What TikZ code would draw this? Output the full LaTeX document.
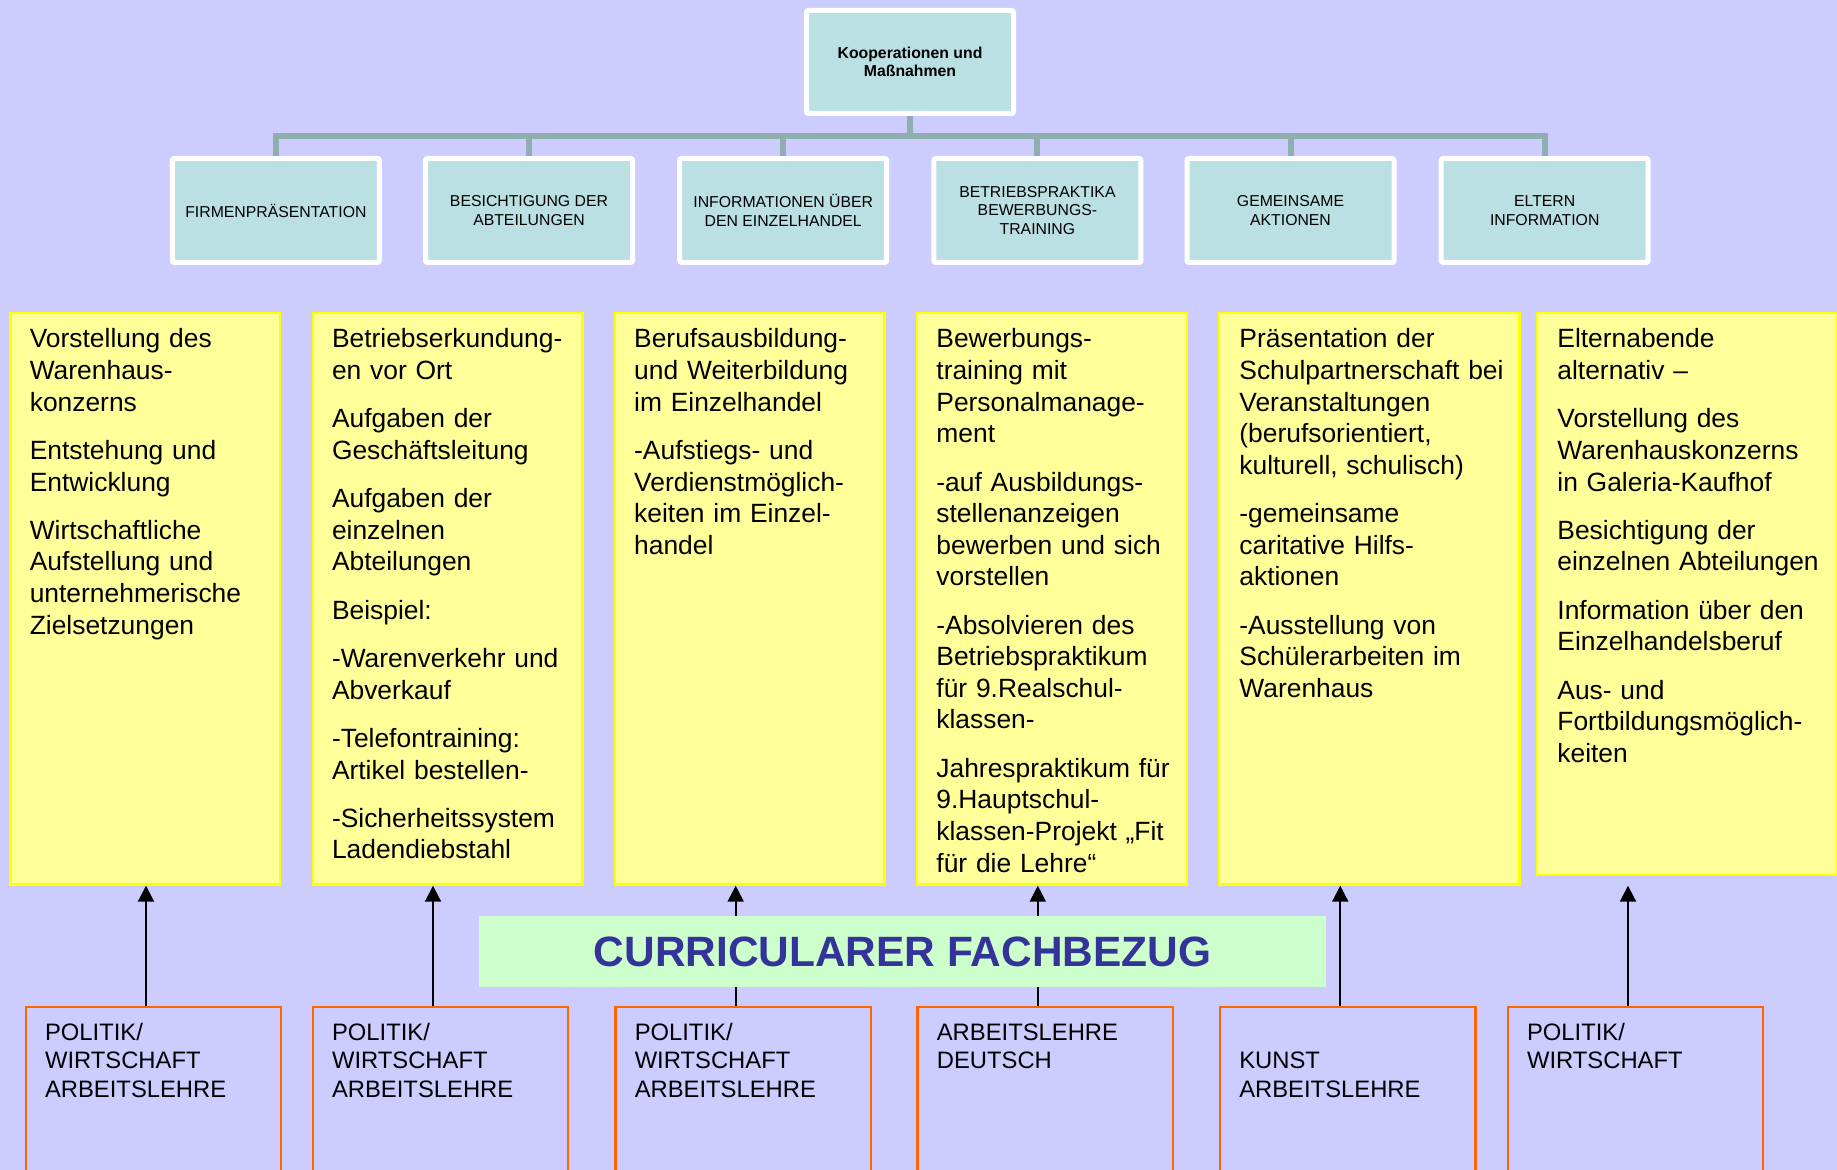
\documentclass[tikz,border=0pt]{standalone}
\usepackage{fontspec}
\setmainfont{Liberation Sans}
\usepackage{tikz}
\usetikzlibrary{arrows.meta}

\definecolor{hintergrund}{RGB}{204,204,255}
\definecolor{tuerkis}{RGB}{187,224,227}
\definecolor{astfarbe}{RGB}{143,175,175}
\definecolor{hellgelb}{RGB}{255,255,153}
\definecolor{randgelb}{RGB}{255,255,0}
\definecolor{hellgruen}{RGB}{204,255,204}
\definecolor{fachblau}{RGB}{51,51,153}
\definecolor{fachorange}{RGB}{255,102,0}

\begin{document}
\begin{tikzpicture}[x=0.5pt,y=-0.5pt]
        \tikzstyle{kopfnode}=[
            rectangle,
            rounded corners=1pt,
            draw=white,
            line width=2.5pt,
            fill=tuerkis,
            text=black,
            align=center,
            minimum width=103.5pt,
            minimum height=52pt,
            font=\fontsize{7.9}{9.35}\selectfont
        ]
        \tikzstyle{zettelnode}=[
            rectangle,
            draw=randgelb,
            line width=1.2pt,
            fill=hellgelb,
            minimum width=134.8pt,
            minimum height=285.85pt,
            inner sep=0pt
        ]
        \tikzstyle{zetteltext}=[
            anchor=base west,
            inner sep=0pt,
            text width=125pt,
            align=left,
            font=\fontsize{13.2}{15.8}\selectfont
        ]
        \tikzstyle{fachnode}=[
            rectangle,
            draw=fachorange,
            line width=1.2pt,
            minimum width=127.65pt,
            minimum height=94.8pt
        ]
        \tikzstyle{fachtext}=[
            anchor=base west,
            inner sep=0pt,
            text width=110pt,
            align=left,
            font=\fontsize{11.9}{14.35}\selectfont
        ]
        \tikzstyle{balkennode}=[
            rectangle,
            fill=hellgruen,
            text=fachblau,
            minimum width=423.5pt,
            minimum height=35.35pt,
            font=\fontsize{21.2}{25}\selectfont\bfseries
        ]
        \tikzstyle{ast}=[draw=astfarbe, line width=3pt]
        \tikzstyle{pfeil}=[draw=black, line width=1pt, -{Triangle[length=8pt,width=8pt]}]

        \path[use as bounding box, clip] (0,0) rectangle (1837,1170);
        \fill[hintergrund] (0,0) rectangle (1837,1170);

        \node[kopfnode, font=\fontsize{7.9}{9.35}\selectfont\bfseries, minimum height=51.5pt] (K) at (910,62){Kooperationen und\\Maßnahmen};

        \node[kopfnode] (B1) at (275.9,210.5){FIRMENPRÄSENTATION};
        \node[kopfnode] (B2) at (529,210.5){BESICHTIGUNG DER\\ABTEILUNGEN};
        \node[kopfnode] (B3) at (783.2,210.5){INFORMATIONEN ÜBER\\DEN EINZELHANDEL};
        \node[kopfnode] (B4) at (1037.4,210.5){BETRIEBSPRAKTIKA\\BEWERBUNGS-\\TRAINING};
        \node[kopfnode] (B5) at (1290.5,210.5){GEMEINSAME\\AKTIONEN};
        \node[kopfnode] (B6) at (1544.7,210.5){ELTERN\\INFORMATION};

        \draw[ast] (K.south) -- ++(0,20) -| (B1.north);
        \draw[ast] (K.south) -- ++(0,20) -| (B2.north);
        \draw[ast] (K.south) -- ++(0,20) -| (B3.north);
        \draw[ast] (K.south) -- ++(0,20) -| (B4.north);
        \draw[ast] (K.south) -- ++(0,20) -| (B5.north);
        \draw[ast] (K.south) -- ++(0,20) -| (B6.north);

        \node[zettelnode] (Y1) at (145.4,598.65){};
        \node[zettelnode] (Y2) at (447.6,598.65){};
        \node[zettelnode] (Y3) at (749.8,598.65){};
        \node[zettelnode] (Y4) at (1052,598.65){};
        \node[zettelnode, minimum width=150.15pt] (Y5) at (1369.35,598.65){};
        \node[zettelnode, minimum width=150.15pt, minimum height=281.2pt] (Y6) at (1687.35,594){};

        \node[zetteltext] (T1) at ([shift={(20,36.4)}]Y1.north west){Vorstellung des\\Warenhaus-\\konzerns\\[8.35pt]Entstehung und\\Entwicklung\\[8.35pt]Wirtschaftliche\\Aufstellung und\\unternehmerische\\Zielsetzungen};
        \node[zetteltext] (T2) at ([shift={(20,36.4)}]Y2.north west){Betriebserkundung-\\en vor Ort\\[8.35pt]Aufgaben der\\Geschäftsleitung\\[8.35pt]Aufgaben der\\einzelnen\\Abteilungen\\[8.35pt]Beispiel:\\[8.35pt]-Warenverkehr und\\Abverkauf\\[8.35pt]-Telefontraining:\\Artikel bestellen-\\[8.35pt]-Sicherheitssystem\\Ladendiebstahl};
        \node[zetteltext] (T3) at ([shift={(20,36.4)}]Y3.north west){Berufsausbildung-\\und Weiterbildung\\im Einzelhandel\\[8.35pt]-Aufstiegs- und\\Verdienstmöglich-\\keiten im Einzel-\\handel};
        \node[zetteltext] (T4) at ([shift={(20,36.4)}]Y4.north west){Bewerbungs-\\training mit\\Personalmanage-\\ment\\[8.35pt]-auf Ausbildungs-\\stellenanzeigen\\bewerben und sich\\vorstellen\\[8.35pt]-Absolvieren des\\Betriebspraktikum\\für 9.Realschul-\\klassen-\\[8.35pt]Jahrespraktikum für\\9.Hauptschul-\\klassen-Projekt „Fit\\für die Lehre“};
        \node[zetteltext, text width=140pt] (T5) at ([shift={(21,36.4)}]Y5.north west){Präsentation der\\Schulpartnerschaft bei\\Veranstaltungen\\(berufsorientiert,\\kulturell, schulisch)\\[8.35pt]-gemeinsame\\caritative Hilfs-\\aktionen\\[8.35pt]-Ausstellung von\\Schülerarbeiten im\\Warenhaus};
        \node[zetteltext, text width=140pt] (T6) at ([shift={(21,36.4)}]Y6.north west){Elternabende\\alternativ –\\[8.35pt]Vorstellung des\\Warenhauskonzerns\\in Galeria-Kaufhof\\[8.35pt]Besichtigung der\\einzelnen Abteilungen\\[8.35pt]Information über den\\Einzelhandelsberuf\\[8.35pt]Aus- und\\Fortbildungsmöglich-\\keiten};

        \node[fachnode] (O1) at (153.5,1102){};
        \node[fachnode] (O2) at (440.5,1102){};
        \node[fachnode] (O3) at (743.2,1102){};
        \node[fachnode] (O4) at (1045.3,1102){};
        \node[fachnode] (O5) at (1347.75,1102){};
        \node[fachnode] (O6) at (1635.5,1102){};

        \node[fachtext] (F1) at ([shift={(20,34)}]O1.north west){POLITIK/\\WIRTSCHAFT\\ARBEITSLEHRE};
        \node[fachtext] (F2) at ([shift={(20,34)}]O2.north west){POLITIK/\\WIRTSCHAFT\\ARBEITSLEHRE};
        \node[fachtext] (F3) at ([shift={(20,34)}]O3.north west){POLITIK/\\WIRTSCHAFT\\ARBEITSLEHRE};
        \node[fachtext] (F4) at ([shift={(20,34)}]O4.north west){ARBEITSLEHRE\\DEUTSCH};
        \node[fachtext] (F5) at ([shift={(20,62.7)}]O5.north west){KUNST\\ARBEITSLEHRE};
        \node[fachtext] (F6) at ([shift={(20,34)}]O6.north west){POLITIK/\\WIRTSCHAFT};

        \coordinate (P1) at ([xshift=-3.75pt]O1.north);
        \coordinate (P2) at ([xshift=-3.75pt]O2.north);
        \coordinate (P3) at ([xshift=-3.75pt]O3.north);
        \coordinate (P4) at ([xshift=-3.75pt]O4.north);
        \coordinate (P5) at ([xshift=-3.75pt]O5.north);
        \coordinate (P6) at ([xshift=-3.75pt]O6.north);

        \draw[pfeil] (P1) -- (P1 |- Y1.south);
        \draw[pfeil] (P2) -- (P2 |- Y2.south);
        \draw[pfeil] (P3) -- (P3 |- Y3.south);
        \draw[pfeil] (P4) -- (P4 |- Y4.south);
        \draw[pfeil] (P5) -- (P5 |- Y5.south);
        \draw[pfeil] (P6) -- (P6 |- Y5.south);

        \node[balkennode, text depth=0pt, text height=0pt] (C) at (902.5,951.35){\raisebox{-0.36em}{CURRICULARER FACHBEZUG}};

\end{tikzpicture}
\end{document}
